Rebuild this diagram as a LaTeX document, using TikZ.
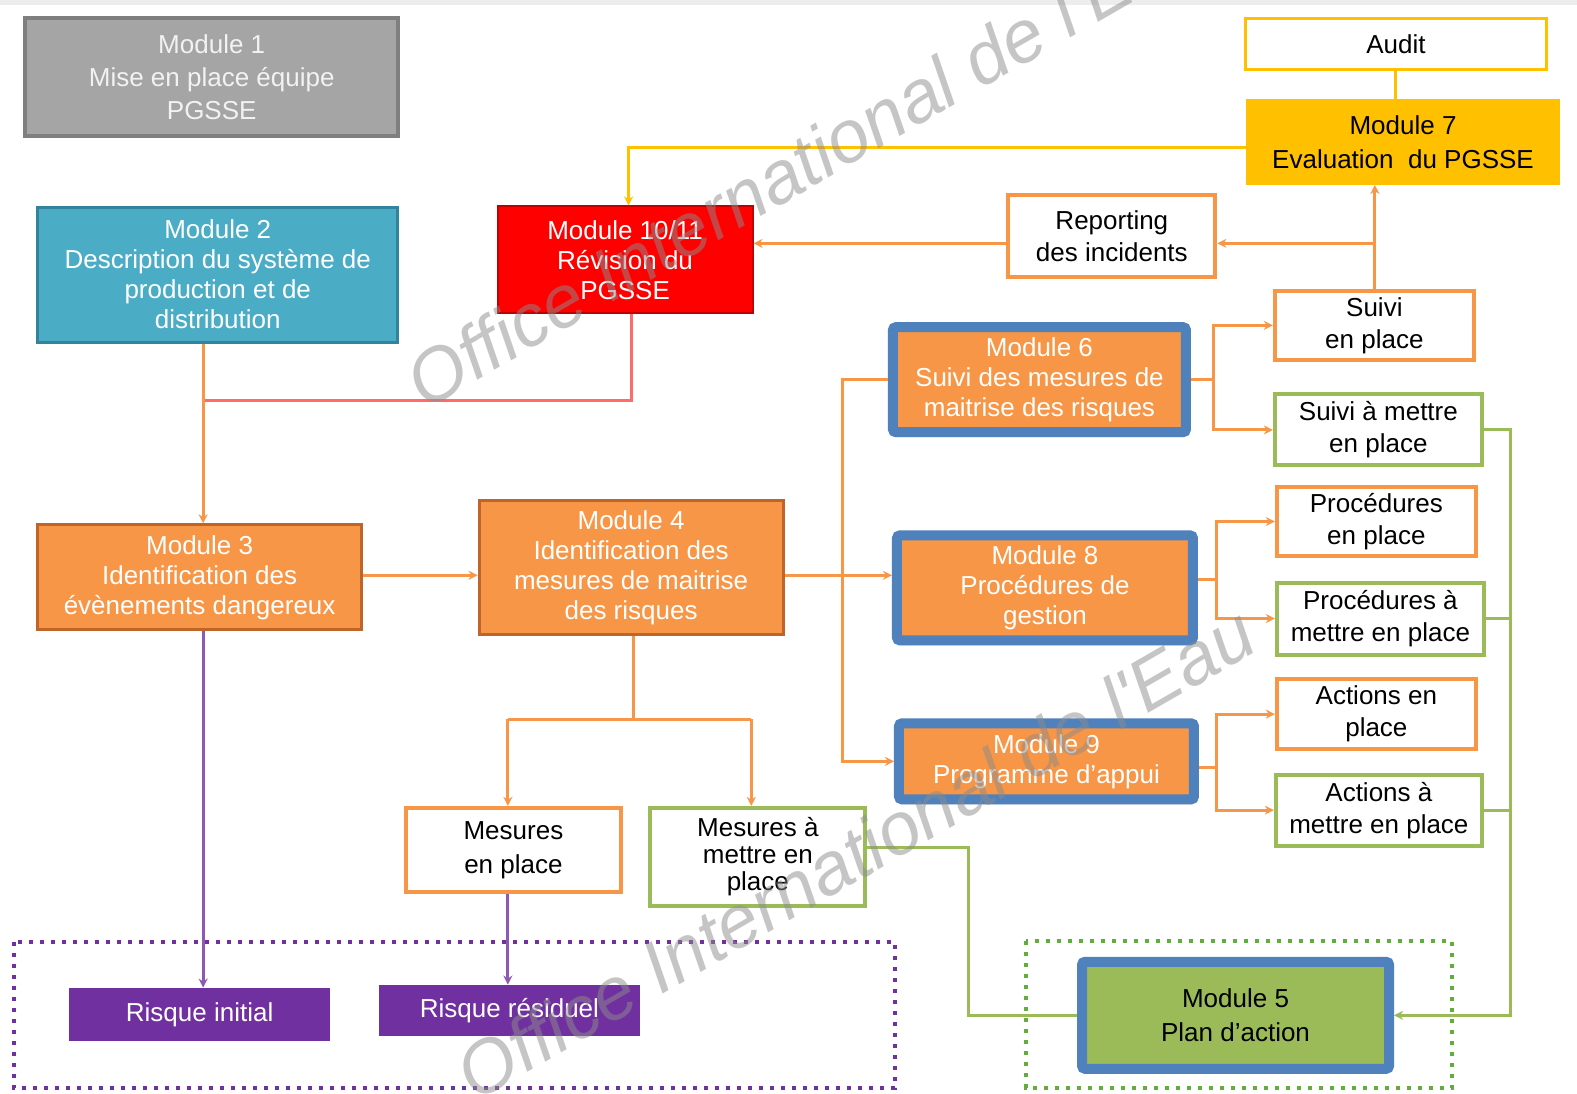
\documentclass[tikz,border=0pt]{standalone}
\usepackage{fontspec}
\setmainfont{Liberation Sans}
\newfontfamily\wmfont{Liberation Sans}
\usetikzlibrary{arrows.meta,shadows}
\definecolor{morange}{HTML}{F79646}
\definecolor{mbrown}{HTML}{C0652A}
\definecolor{mgreen}{HTML}{9BBB59}
\definecolor{mdgreen}{HTML}{62AE3C}
\definecolor{mblue}{HTML}{4F81BD}
\definecolor{mteal}{HTML}{4BACC6}
\definecolor{mtealb}{HTML}{31849B}
\definecolor{mgray}{HTML}{A5A5A5}
\definecolor{mgrayb}{HTML}{7F7F7F}
\definecolor{myellow}{HTML}{FFC000}
\definecolor{mred}{HTML}{FF0000}
\definecolor{mredb}{HTML}{C00000}
\definecolor{mpink}{HTML}{FF6B6B}
\definecolor{mpurple}{HTML}{7030A0}
\begin{document}
\begin{tikzpicture}[x=1.00574pt,y=-1.00574pt,
  font=\fontsize{26}{30}\selectfont,
  box/.style={rectangle, align=center, inner sep=0pt},
  wbox/.style={box, draw=morange, line width=4pt, fill=white, font=\fontsize{26}{32}\selectfont},
  gbox/.style={box, draw=mgreen, line width=4pt, fill=white, font=\fontsize{26}{32}\selectfont},
  bluebox/.style={box, draw=mblue, line width=10pt, fill=morange, rounded corners=3pt, text=white,
     drop shadow={shadow xshift=0pt, shadow yshift=-5pt, opacity=0.25}},
  obox/.style={box, draw=mbrown, line width=3pt, fill=morange, text=white},
  rbox/.style={box, fill=mpurple, text=white},
  conn/.style={line width=3pt, draw=morange},
  yline/.style={line width=3pt, draw=myellow},
  rline/.style={line width=3pt, draw=mpink},
  gline/.style={line width=3pt, draw=mgreen},
  pline/.style={line width=3pt, draw=mpurple!80},
  arr/.style={-{Stealth[length=9pt,width=9pt]}},
  wmark/.style={text=black!45, opacity=0.5, rotate=30, font=\wmfont\itshape\fontsize{74}{74}\selectfont}
]
\useasboundingbox (0,0) rectangle (1568,1087);
\fill[white] (0,0) rectangle (1568,1087);
\fill[black!7] (0,0) rectangle (1568,5);

% dotted groups
\draw[mpurple, line width=4pt, dash pattern=on 4pt off 7pt] (14,937) rectangle (890,1082);
\draw[mdgreen, line width=4pt, dash pattern=on 4pt off 7pt] (1020,936) rectangle (1444,1082);

% nodes
\node[box, draw=mgrayb, line width=4pt, fill=mgray, text=black!5, minimum width=373, minimum height=118, font=\fontsize{26}{33}\selectfont] (m1) at (210.5,77) {Module 1\\Mise en place équipe\\PGSSE};
\node[box, draw=mtealb, line width=3pt, fill=mteal, text=white, minimum width=360, minimum height=135] (m2) at (216.5,273) {Module 2\\Description du système de\\production et de\\distribution};
\node[box, draw=mredb, line width=2pt, fill=mred, text=white, minimum width=255, minimum height=107] (m1011) at (621.5,258.5) {Module 10/11\\Révision du\\PGSSE};
\node[box, draw=myellow, line width=3pt, fill=white, minimum width=301, minimum height=51] (audit) at (1388,44) {Audit};
\node[box, fill=myellow, minimum width=314, minimum height=86, font=\fontsize{26}{34}\selectfont] (m7) at (1395,141) {Module 7\\Evaluation\ \ du PGSSE};
\node[wbox, minimum width=207, minimum height=82] (report) at (1105.5,235) {Reporting\\des incidents};
\node[wbox, minimum width=199, minimum height=69] (suivi1) at (1366.5,323.5) {Suivi\\en place};
\node[gbox, minimum width=207, minimum height=71] (suivi2) at (1370.5,427.5) {Suivi à mettre\\en place};
\node[wbox, minimum width=199, minimum height=69] (proc1) at (1368.5,518.5) {Procédures\\en place};
\node[gbox, minimum width=207, minimum height=72] (proc2) at (1372.5,615) {Procédures à\\mettre en place};
\node[wbox, minimum width=199, minimum height=70] (act1) at (1368.5,710) {Actions en\\place};
\node[gbox, minimum width=206, minimum height=71] (act2) at (1371,805.5) {Actions à\\mettre en place};
\node[bluebox, minimum width=293, minimum height=105] (m6) at (1033.5,377.5) {Module 6\\Suivi des mesures de\\maitrise des risques};
\node[bluebox, minimum width=296, minimum height=105] (m8) at (1039,584.5) {Module 8\\Procédures de\\gestion};
\node[bluebox, minimum width=295, minimum height=76] (m9) at (1040.5,757) {Module 9\\Programme d’appui};
\node[bluebox, fill=mgreen, text=black, minimum width=307, minimum height=107, font=\fontsize{26}{34}\selectfont] (m5) at (1228.5,1009.5) {Module 5\\Plan d’action};
\node[obox, minimum width=324, minimum height=105] (m3) at (198.5,574) {Module 3\\Identification des\\évènements dangereux};
\node[obox, minimum width=304, minimum height=134] (m4) at (627.5,564.5) {Module 4\\Identification des\\mesures de maitrise\\des risques};
\node[wbox, minimum width=215, minimum height=84, font=\fontsize{26}{34}\selectfont] (mes1) at (510.5,845) {Mesures\\en place};
\node[gbox, minimum width=215, minimum height=98, font=\fontsize{26}{27}\selectfont] (mes2) at (753.5,852) {Mesures à\\mettre en\\place};
\node[rbox, minimum width=261, minimum height=53] (ri) at (198.5,1008.5) {Risque initial};
\node[rbox, minimum width=261, minimum height=51] (rr) at (506.5,1004.5) {Risque résiduel};

% junctions
\coordinate (j1) at (202,398);
\coordinate (r1) at (628,398);
\coordinate (jy) at (625,147);
\coordinate (j2) at (1367,242);
\coordinate (b6) at (1207,377.5);
\coordinate (b8) at (1210,576);
\coordinate (b9) at (1210,763);
\coordinate (v4) at (838,572);
\coordinate (ja) at (505,715);
\coordinate (jb) at (747,715);
\coordinate (j4) at (630,715);
\coordinate (gl) at (963,843);
\coordinate (gr) at (1502,1009.5);

% connectors
\draw[rline] (m1011.south -| r1) -- (r1) -- (j1);
\draw[conn,arr] (m2.south -| j1) -- (m3.north -| j1);
\draw[yline,arr] (m7.west |- jy) -- (jy) -- (m1011.north -| jy);
\draw[yline] (audit.south) -- (audit.south |- m7.north);
\draw[conn,arr] (report.west |- j2) -- (m1011.east |- j2);
\draw[conn,arr] (suivi1.north -| j2) -- (m7.south -| j2);
\draw[conn,arr] (j2) -- (report.east |- j2);

\draw[conn] (m6.east) -- (b6);
\draw[conn,arr] (b6) |- (suivi1.west);
\draw[conn,arr] (b6) |- (suivi2.west);
\draw[conn] (m8.east |- b8) -- (b8);
\draw[conn,arr] (b8) |- (proc1.west);
\draw[conn,arr] (b8) |- (proc2.west);
\draw[conn] (m9.east |- b9) -- (b9);
\draw[conn,arr] (b9) |- (act1.west);
\draw[conn,arr] (b9) |- (act2.west);

\draw[conn,arr] (m3.east |- v4) -- (m4.west |- v4);
\draw[conn,arr] (m4.east |- v4) -- (m8.west |- v4);
\draw[conn] (m6.west) -| (v4);
\draw[conn,arr] (v4) |- (m9.west);

\draw[conn] (m4.south -| j4) -- (j4);
\draw[conn] (ja) -- (jb);
\draw[conn,arr] (ja) -- (mes1.north -| ja);
\draw[conn,arr] (jb) -- (mes2.north -| jb);

\draw[gline] (mes2.east |- gl) -- (gl) |- (m5.west);
\draw[gline,arr] (suivi2.east) -| (gr) -- (m5.east);
\draw[gline] (proc2.east) -- (proc2.east -| gr);
\draw[gline] (act2.east) -- (act2.east -| gr);

\draw[pline,arr] (m3.south -| j1) -- (ri.north -| j1);
\draw[pline,arr] (mes1.south -| ja) -- (rr.north -| ja);

% watermark
\begin{scope}
\clip (0,0) rectangle (1568,1087);
\node[wmark] (wm1) at (800,160) {Office International de l'Eau};
\node[wmark] (wm2) at (850,848) {Office International de l'Eau};
\end{scope}
\end{tikzpicture}
\end{document}
